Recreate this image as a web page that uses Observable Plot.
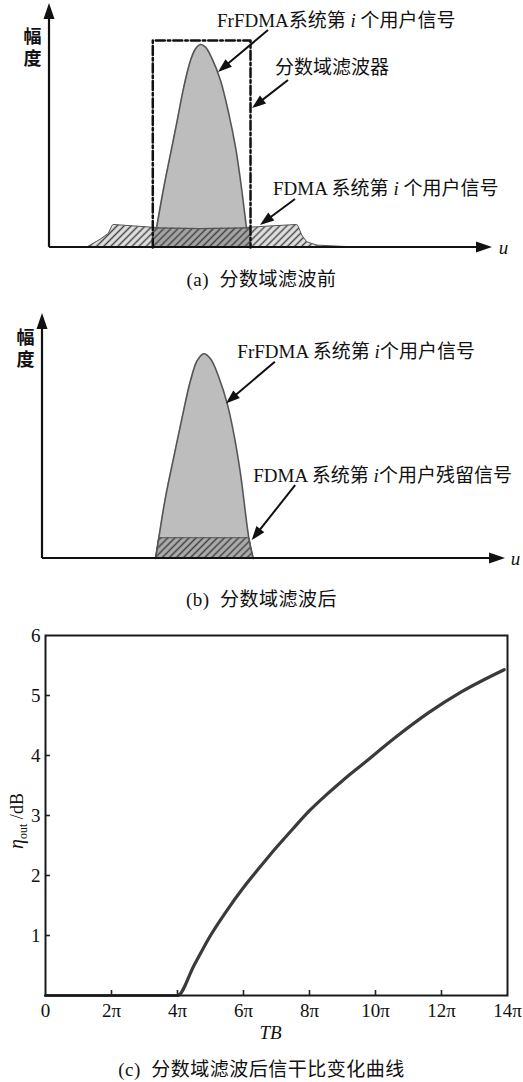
<!DOCTYPE html>
<html><head><meta charset="utf-8">
<script src="https://cdn.jsdelivr.net/npm/d3@7"></script>
<script src="https://cdn.jsdelivr.net/npm/@observablehq/plot@0.6"></script>
<style>
body{margin:0;background:#fff;}
#root{width:523px;}
.cap{height:24px;line-height:24px;text-align:center;font-family:"Liberation Serif","Noto Sans CJK SC",serif;font-size:19px;color:#111;white-space:pre;letter-spacing:0.5px}
svg{display:block}
</style></head><body><div id="root"></div>
<script>
const FONT = '"Liberation Serif", "Noto Sans CJK SC", serif';

// ---------- panel (a): before fractional-domain filtering (u, amplitude) ----------
const peakA = [
  {u: 24.26, a: 0.080}, {u: 25.92, a: 0.251}, {u: 27.44, a: 0.390}, {u: 28.96, a: 0.529},
  {u: 30.45, a: 0.668}, {u: 31.97, a: 0.779}, {u: 33.11, a: 0.828}, {u: 34.24, a: 0.846},
  {u: 35.37, a: 0.835}, {u: 36.89, a: 0.786}, {u: 38.78, a: 0.696}, {u: 40.66, a: 0.557},
  {u: 42.18, a: 0.418}, {u: 43.31, a: 0.279}, {u: 44.67, a: 0.080}
];
const hatchA = [
  {u: 8.55, a: 0}, {u: 11.56, a: 0.032}, {u: 13.45, a: 0.057}, {u: 14.22, a: 0.0875},
  {u: 14.51, a: 0.094}, {u: 23.65, a: 0.082}, {u: 34.24, a: 0.079}, {u: 44.83, a: 0.082},
  {u: 56.17, a: 0.094}, {u: 56.53, a: 0.085}, {u: 57.3, a: 0.05}, {u: 58.43, a: 0.022},
  {u: 60.7, a: 0.008}, {u: 66.0, a: 0.003}, {u: 70.5, a: 0}
];
const hatchInFilterA = [{u: 23.42, a: 0.082}, {u: 34.24, a: 0.079}, {u: 45.58, a: 0.082}];
const filterA = [{u: 23.42, a: 0}, {u: 23.42, a: 0.8625}, {u: 45.58, a: 0.8625}, {u: 45.58, a: 0}];
const axesA = [{u1: 0, a1: 0, u2: 0, a2: 1.017}, {u1: 0, a1: 0, u2: 100.45, a2: 0}];
const arrowsA = [
  {u1: 49.66, a1: 0.904, u2: 38.32, a2: 0.729},
  {u1: 54.2, a1: 0.696, u2: 46.03, a2: 0.579},
  {u1: 55.78, a1: 0.20, u2: 47.85, a2: 0.092}
];
const labelsA = [
  {u: 38.1, a: 0.946, text: "FrFDMA系统第 *i* 个用户信号"},
  {u: 51.25, a: 0.75, text: "分数域滤波器"},
  {u: 50.8, a: 0.246, text: "FDMA 系统第 *i* 个用户信号"}
];
const axisTextA = [{u: -3.85, a: 0.875, t: "幅"}, {u: -3.85, a: 0.783, t: "度"}];
const uLabelA = [{u: 102.95, a: 0, t: "u"}];

// ---------- panel (b): after filtering ----------
const peakB = [
  {u: 25.62, a: 0}, {u: 26.37, a: 0.081}, {u: 27.89, a: 0.239}, {u: 29.77, a: 0.396},
  {u: 31.68, a: 0.552}, {u: 33.56, a: 0.695}, {u: 35.08, a: 0.773}, {u: 36.58, a: 0.800},
  {u: 38.1, a: 0.780}, {u: 39.98, a: 0.708}, {u: 41.9, a: 0.604}, {u: 43.38, a: 0.487},
  {u: 44.9, a: 0.331}, {u: 46.78, a: 0.081}, {u: 47.78, a: 0}
];
const hatchB = [{u: 25.62, a: 0}, {u: 26.37, a: 0.081}, {u: 46.78, a: 0.081}, {u: 47.78, a: 0}];
const axesB = [{u1: 0, a1: 0, u2: 0, a2: 0.957}, {u1: 0, a1: 0, u2: 105, a2: 0}];
const arrowsB = [
  {u1: 52.8, a1: 0.767, u2: 41.7, a2: 0.604},
  {u1: 57.4, a1: 0.285, u2: 47.55, a2: 0.07}
];
const labelsB = [
  {u: 44.3, a: 0.806, text: "FrFDMA 系统第 *i*个用户信号"},
  {u: 47.9, a: 0.324, text: "FDMA 系统第 *i*个用户残留信号"}
];
const axisTextB = [{u: -3.85, a: 0.859, t: "幅"}, {u: -3.85, a: 0.773, t: "度"}];
const uLabelB = [{u: 107.26, a: 0, t: "u"}];

// ---------- panel (c): SIR curve ----------
const tbValues  = [0, 2, 4, 4.5, 5, 5.5, 6, 6.5, 7, 7.5, 8, 8.5, 9, 9.6, 10.6, 11.6, 12.6, 13.9];
const etaValues = [0, 0, 0, 0.5, 1.0, 1.42, 1.8, 2.14, 2.47, 2.78, 3.08, 3.34, 3.58, 3.85, 4.3, 4.71, 5.06, 5.43];
const xTicks = [0, 2, 4, 6, 8, 10, 12, 14];
const xTickLabels = ["0", "2π", "4π", "6π", "8π", "10π", "12π", "14π"];
const yTicks = [1, 2, 3, 4, 5, 6];
const yTickLabels = ["1", "2", "3", "4", "5", "6"];
const captions = ["(a)\u00a0\u00a0分数域滤波前", "(b)\u00a0\u00a0分数域滤波后", "(c)\u00a0\u00a0分数域滤波后信干比变化曲线"];

// ---------- helpers ----------
function hatchDefs(specs) {
  return () => {
    const defs = d3.create("svg:defs");
    for (const s of specs) {
      const p = defs.append("pattern").attr("id", s.id).attr("patternUnits", "userSpaceOnUse")
        .attr("width", 5).attr("height", 5).attr("patternTransform", "rotate(45)");
      p.append("rect").attr("width", 5).attr("height", 5).attr("fill", s.bg);
      p.append("line").attr("x1", 2.5).attr("y1", 0).attr("x2", 2.5).attr("y2", 5)
        .attr("stroke", s.line).attr("stroke-width", s.w);
    }
    return defs.node();
  };
}
function arrowMark(list, L, W, sw) {
  return (index, scales) => {
    const g = d3.create("svg:g");
    for (const d of list) {
      const x1 = scales.x(d.u1), y1 = scales.y(d.a1), x2 = scales.x(d.u2), y2 = scales.y(d.a2);
      const dx = x2 - x1, dy = y2 - y1, len = Math.hypot(dx, dy), ux = dx / len, uy = dy / len;
      const bx = x2 - ux * L, by = y2 - uy * L;
      g.append("line").attr("x1", x1).attr("y1", y1).attr("x2", bx + ux * 2).attr("y2", by + uy * 2)
        .attr("stroke", "#111").attr("stroke-width", sw);
      g.append("path")
        .attr("d", `M${x2},${y2}L${bx - uy * W / 2},${by + ux * W / 2}L${bx + uy * W / 2},${by - ux * W / 2}Z`)
        .attr("fill", "#111");
    }
    return g.node();
  };
}
function richText(items, size) {
  return (index, scales) => {
    const g = d3.create("svg:g").attr("font-size", size).attr("fill", "#111")
      .attr("text-anchor", "start").style("white-space", "pre");
    for (const it of items) {
      const t = g.append("text").attr("text-anchor", "start")
        .attr("x", scales.x(it.u)).attr("y", scales.y(it.a)).attr("dy", "0.35em");
      it.text.split("*").forEach((s, i) => {
        if (s) t.append("tspan").attr("font-style", i % 2 ? "italic" : null).text(s);
      });
    }
    return g.node();
  };
}
const root = document.getElementById("root");
function addCaption(txt) {
  const d = document.createElement("div");
  d.className = "cap";
  d.textContent = txt;
  root.appendChild(d);
}
const style = {fontFamily: FONT, background: "transparent", overflow: "visible", color: "#111"};

// ---------- (a) ----------
const plotA = Plot.plot({
  width: 523, height: 268,
  marginLeft: 49, marginRight: 33, marginTop: 7, marginBottom: 21,
  x: {domain: [0, 100], axis: null},
  y: {domain: [0, 1], axis: null},
  style,
  marks: [
    hatchDefs([
      {id: "hatchLightA", bg: "#e2e2e2", line: "#464646", w: 1.5},
      {id: "hatchDarkA", bg: "#a6a6a6", line: "#404040", w: 1.5}
    ]),
    Plot.areaY(hatchA, {x: "u", y: "a", fill: "url(#hatchLightA)", stroke: "#555", strokeWidth: 1}),
    Plot.areaY(peakA, {x: "u", y: "a", fill: "#bdbdbd", curve: "catmull-rom"}),
    Plot.areaY(hatchInFilterA, {x: "u", y: "a", fill: "url(#hatchDarkA)"}),
    Plot.line(hatchInFilterA, {x: "u", y: "a", stroke: "#555", strokeWidth: 1.2}),
    Plot.line(peakA, {x: "u", y: "a", stroke: "#555", strokeWidth: 1.6, curve: "catmull-rom"}),
    Plot.line(filterA, {x: "u", y: "a", stroke: "#111", strokeWidth: 2.5, strokeDasharray: "9,3,2.5,3"}),
    arrowMark(axesA, 16, 11, 2.2),
    arrowMark(arrowsA, 14, 10, 2),
    richText(labelsA, 19),
    Plot.text(axisTextA, {x: "u", y: "a", text: "t", fontSize: 18, fontWeight: "bold", fill: "#111"}),
    Plot.text(uLabelA, {x: "u", y: "a", text: "t", fontSize: 19, fontStyle: "italic", fill: "#111"})
  ]
});
root.appendChild(plotA);
addCaption(captions[0]);

// ---------- (b) ----------
const plotB = Plot.plot({
  width: 523, height: 296,
  marginLeft: 42, marginRight: 40, marginTop: 10, marginBottom: 30,
  x: {domain: [0, 100], axis: null},
  y: {domain: [0, 1], axis: null},
  style,
  marks: [
    hatchDefs([{id: "hatchDarkB", bg: "#adadad", line: "#404040", w: 1.5}]),
    Plot.areaY(peakB, {x: "u", y: "a", fill: "#bdbdbd", curve: "catmull-rom"}),
    Plot.areaY(hatchB, {x: "u", y: "a", fill: "url(#hatchDarkB)"}),
    Plot.line(hatchB, {x: "u", y: "a", stroke: "#555", strokeWidth: 1.2}),
    Plot.line(peakB, {x: "u", y: "a", stroke: "#555", strokeWidth: 1.6, curve: "catmull-rom"}),
    arrowMark(axesB, 16, 11, 2.2),
    arrowMark(arrowsB, 14, 10, 2),
    richText(labelsB, 19),
    Plot.text(axisTextB, {x: "u", y: "a", text: "t", fontSize: 18, fontWeight: "bold", fill: "#111"}),
    Plot.text(uLabelB, {x: "u", y: "a", text: "t", fontSize: 19, fontStyle: "italic", fill: "#111"})
  ]
});
root.appendChild(plotB);
addCaption(captions[1]);

// ---------- (c) ----------
const curve = tbValues.map((tb, i) => ({tb, eta: etaValues[i]}));
const yLabel = (index, scales) => {
  const t = d3.create("svg:text")
    .attr("transform", `translate(17,${scales.y(2.9)}) rotate(-90)`)
    .attr("text-anchor", "middle").attr("dy", "0.35em").attr("fill", "#111")
    .attr("font-size", 18).style("white-space", "pre");
  t.append("tspan").attr("font-style", "italic").attr("font-size", 20).text("η");
  t.append("tspan").attr("font-size", 12).attr("dy", 4).text("out");
  t.append("tspan").attr("dy", -4).text(" /dB");
  return t.node();
};
const plotC = Plot.plot({
  width: 523, height: 446,
  marginLeft: 45, marginRight: 16, marginTop: 23, marginBottom: 63,
  x: {domain: [0, 14], axis: null},
  y: {domain: [0, 6], axis: null},
  style,
  marks: [
    Plot.tickX(xTicks.slice(1, -1), {x: d => d, insetTop: 355, stroke: "#222", strokeWidth: 1.6}),
    Plot.tickY(yTicks.slice(0, -1), {y: d => d, insetRight: 457, stroke: "#222", strokeWidth: 1.6}),
    Plot.text(xTicks, {x: d => d, y: 0, dy: 15, text: (d, i) => xTickLabels[i], fontSize: 19, fill: "#111"}),
    Plot.text(yTicks, {x: 0, y: d => d, dx: -5, textAnchor: "end", text: (d, i) => yTickLabels[i], fontSize: 19, fill: "#111"}),
    Plot.line(curve, {x: "tb", y: "eta", stroke: "#3a3a3a", strokeWidth: 3.2, curve: "monotone-x"}),
    Plot.frame({stroke: "#1a1a1a", strokeWidth: 2}),
    Plot.text(["TB"], {x: 6.82, y: 0, dy: 37, text: d => d, fontSize: 19, fontStyle: "italic", fill: "#111"}),
    yLabel
  ]
});
root.appendChild(plotC);
addCaption(captions[2]);
</script></body></html>
